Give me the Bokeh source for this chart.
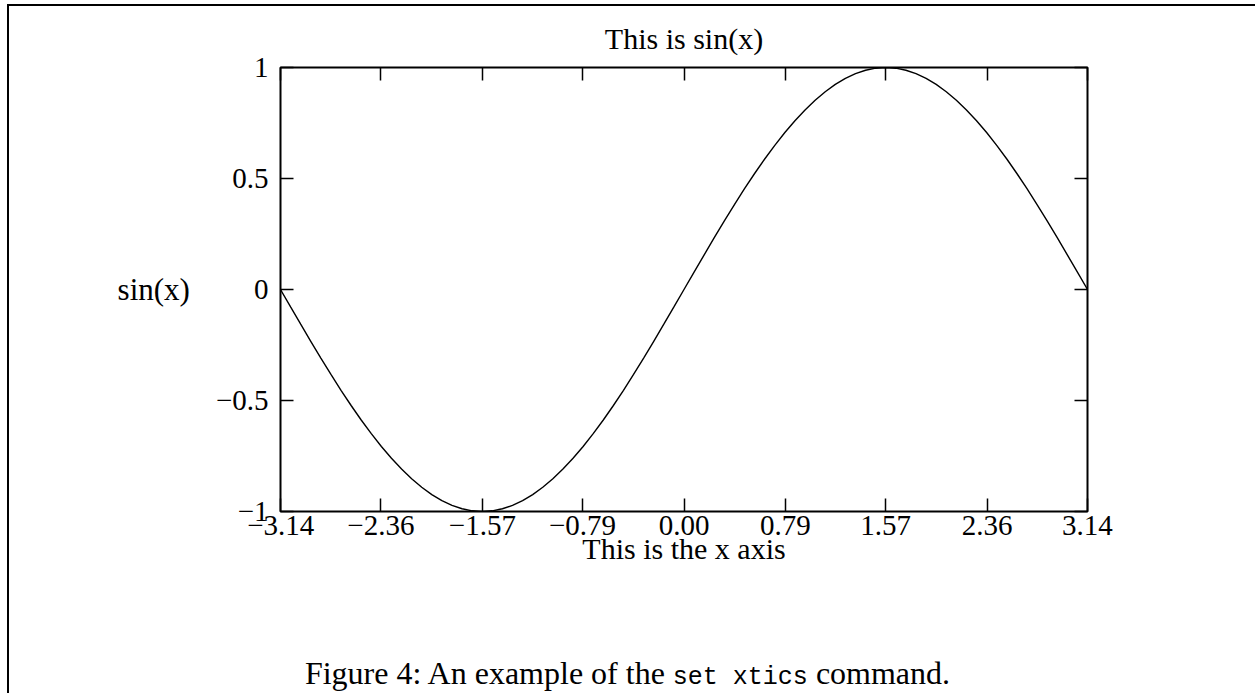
from bokeh.plotting import figure
from bokeh.models import (LinearAxis, FixedTicker, CustomJSTickFormatter, Range1d,
                          Div, GlobalInlineStyleSheet)
from bokeh.layouts import column
from bokeh.embed import file_html
from bokeh.resources import INLINE

# ---- data ----
x_vals = [-3.1416, -3.0631, -2.9845, -2.9060, -2.8274, -2.7489, -2.6704, -2.5918, -2.5133, -2.4347,
          -2.3562, -2.2777, -2.1991, -2.1206, -2.0420, -1.9635, -1.8850, -1.8064, -1.7279, -1.6493,
          -1.5708, -1.4923, -1.4137, -1.3352, -1.2566, -1.1781, -1.0996, -1.0210, -0.9425, -0.8639,
          -0.7854, -0.7069, -0.6283, -0.5498, -0.4712, -0.3927, -0.3142, -0.2356, -0.1571, -0.0785,
          0.0000,
          0.0785, 0.1571, 0.2356, 0.3142, 0.3927, 0.4712, 0.5498, 0.6283, 0.7069, 0.7854,
          0.8639, 0.9425, 1.0210, 1.0996, 1.1781, 1.2566, 1.3352, 1.4137, 1.4923, 1.5708,
          1.6493, 1.7279, 1.8064, 1.8850, 1.9635, 2.0420, 2.1206, 2.1991, 2.2777, 2.3562,
          2.4347, 2.5133, 2.5918, 2.6704, 2.7489, 2.8274, 2.9060, 2.9845, 3.0631, 3.1416]
y_vals = [0.0000, -0.0785, -0.1564, -0.2334, -0.3090, -0.3827, -0.4540, -0.5225, -0.5878, -0.6494,
          -0.7071, -0.7604, -0.8090, -0.8526, -0.8910, -0.9239, -0.9511, -0.9724, -0.9877, -0.9969,
          -1.0000, -0.9969, -0.9877, -0.9724, -0.9511, -0.9239, -0.8910, -0.8526, -0.8090, -0.7604,
          -0.7071, -0.6494, -0.5878, -0.5225, -0.4540, -0.3827, -0.3090, -0.2334, -0.1564, -0.0785,
          0.0000,
          0.0785, 0.1564, 0.2334, 0.3090, 0.3827, 0.4540, 0.5225, 0.5878, 0.6494, 0.7071,
          0.7604, 0.8090, 0.8526, 0.8910, 0.9239, 0.9511, 0.9724, 0.9877, 0.9969, 1.0000,
          0.9969, 0.9877, 0.9724, 0.9511, 0.9239, 0.8910, 0.8526, 0.8090, 0.7604, 0.7071,
          0.6494, 0.5878, 0.5225, 0.4540, 0.3827, 0.3090, 0.2334, 0.1564, 0.0785, 0.0000]
x_ticks = [-3.14, -2.36, -1.57, -0.79, 0.00, 0.79, 1.57, 2.36, 3.14]
x_tick_labels = ["\u22123.14", "\u22122.36", "\u22121.57", "\u22120.79", "0.00",
                 "0.79", "1.57", "2.36", "3.14"]
y_ticks = [-1.0, -0.5, 0.0, 0.5, 1.0]
y_tick_labels = ["\u22121", "\u22120.5", "0", "0.5", "1"]
title_text = "This is sin(x)"
x_label = "This is the x axis"
y_label = "sin(x)"
caption_html = ('Figure 4: An example of the '
                '<span style="font-family: \'Liberation Mono\'; font-size: 25px;">set xtics</span>'
                ' command.')

SERIF = "Liberation Serif"

p = figure(width=1243, height=644,
           x_range=Range1d(min(x_vals), max(x_vals)), y_range=Range1d(-1, 1),
           output_backend="svg", toolbar_location=None,
           min_border_left=271, min_border_right=165, min_border_top=60, min_border_bottom=139,
           title=title_text)
p.background_fill_color = "white"
p.border_fill_color = "white"
p.outline_line_color = "black"
p.outline_line_width = 2
p.grid.visible = False

p.title.align = "center"
p.title.text_font = SERIF
p.title.text_font_style = "normal"
p.title.text_font_size = "30px"
p.title.text_color = "black"
p.title.standoff = 26

def fmt(vals, labels):
    return CustomJSTickFormatter(args=dict(tvals=vals, tlabels=labels), code="""
        const i = tvals.findIndex(t => Math.abs(t - tick) < 1e-6);
        return i >= 0 ? tlabels[i] : '';
    """)

def style_axis(ax, vals, labels, show_labels):
    ax.ticker = FixedTicker(ticks=vals)
    ax.formatter = fmt(vals, labels)
    ax.axis_line_color = None
    ax.major_tick_in = 13
    ax.major_tick_out = 0
    ax.major_tick_line_width = 1.5
    ax.major_tick_line_color = "black"
    ax.minor_tick_line_color = None
    ax.major_label_text_font = SERIF
    if show_labels:
        ax.major_label_text_font_size = "29px"
        ax.major_label_text_color = "black"
    else:
        ax.major_label_text_font_size = "1px"
        ax.major_label_text_color = None
        ax.major_label_standoff = 0

xaxis = p.xaxis[0]
yaxis = p.yaxis[0]
style_axis(xaxis, x_ticks, x_tick_labels, True)
style_axis(yaxis, y_ticks, y_tick_labels, True)
xaxis.major_label_standoff = 4
yaxis.major_label_standoff = 12

xaxis.axis_label = x_label
xaxis.axis_label_text_font = SERIF
xaxis.axis_label_text_font_style = "normal"
xaxis.axis_label_text_font_size = "30px"
xaxis.axis_label_text_color = "black"
xaxis.axis_label_standoff = -6

yaxis.axis_label = y_label
yaxis.axis_label_orientation = "horizontal"
yaxis.axis_label_text_font = SERIF
yaxis.axis_label_text_font_style = "normal"
yaxis.axis_label_text_font_size = "31px"
yaxis.axis_label_text_color = "black"
yaxis.axis_label_standoff = 23

top_axis = LinearAxis()
style_axis(top_axis, x_ticks, x_tick_labels, False)
p.add_layout(top_axis, "above")
right_axis = LinearAxis()
style_axis(right_axis, y_ticks, y_tick_labels, False)
p.add_layout(right_axis, "right")

p.line(x_vals, y_vals, line_color="black", line_width=1.4)

caption = Div(
    text=caption_html, width=1243, height=37,
    styles={"text-align": "center", "font-family": SERIF, "font-size": "32px",
            "line-height": "36px", "color": "black", "text-indent": "-16px"})

layout = column(p, caption,
                styles={"border-top": "2px solid black", "border-left": "2px solid black",
                        "border-right": "2px solid black", "background": "white",
                        "margin-left": "7px", "margin-top": "4px"},
                stylesheets=[GlobalInlineStyleSheet(css="html, body { overflow: hidden; }")])

open("out.html", "w").write(file_html(layout, INLINE))
